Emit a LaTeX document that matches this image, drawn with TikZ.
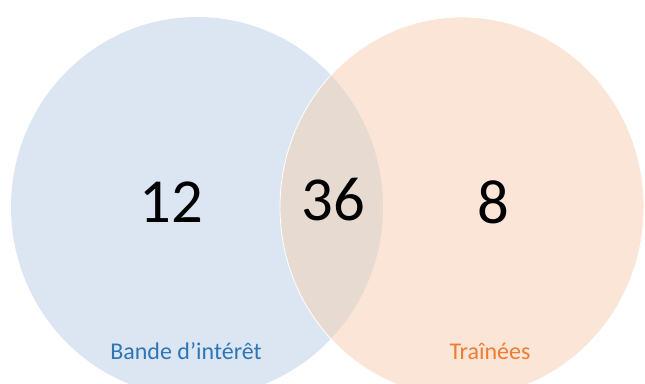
\documentclass[tikz,border=0pt]{standalone}
\usepackage{fontspec}
\setmainfont{Carlito}
\definecolor{bandefill}{RGB}{220,230,243}
\definecolor{trainfill}{RGB}{251,229,214}
\definecolor{interfill}{RGB}{231,219,209}
\definecolor{bandetext}{RGB}{46,117,182}
\definecolor{traintext}{RGB}{237,125,49}
\begin{document}
\begin{tikzpicture}[x=0.75pt, y=0.75pt]
	% Frame of the picture
	\useasboundingbox (0,0) rectangle (645,383);
	\clip (0,0) rectangle (645,383);
	
	% Define the two sets
	\fill[bandefill] (197,176) ellipse [x radius=186, y radius=190];
	\fill[trainfill] (462,176) ellipse [x radius=182, y radius=190];
	\begin{scope}
		\clip (197,176) ellipse [x radius=186, y radius=190];
		\fill[interfill] (462,176) ellipse [x radius=182, y radius=190];
	\end{scope}
	\draw[white, line width=0.6pt] (462,176) ellipse [x radius=182, y radius=190];
	
	% Counts
	\node[font=\fontsize{47}{50}\selectfont] (nbande) at (171,181) {12};
	\node[font=\fontsize{47}{50}\selectfont] (ninter) at (333,183) {36};
	\node[font=\fontsize{47}{50}\selectfont] (ntrain) at (493,181) {8};
	
	% Set labels
	\node[text=bandetext, font=\fontsize{18}{20}\selectfont] (lbande) at (186,32) {Bande d’intérêt};
	\node[text=traintext, font=\fontsize{18}{20}\selectfont] (ltrain) at (490,32) {Traînées};
\end{tikzpicture}
\end{document}
